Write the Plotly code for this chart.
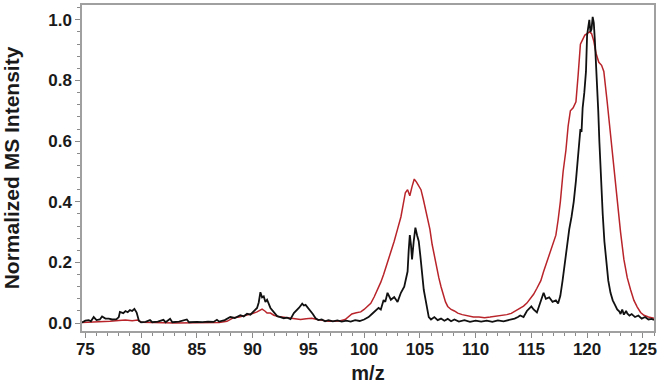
import plotly.graph_objects as go

# Black trace (m/z, normalized intensity)
black_mz = [74.7, 75.0, 75.3, 75.5, 75.75, 76.0, 76.3, 76.5, 76.8, 77.1, 77.4, 77.8, 78.0, 78.1, 78.4, 78.6, 78.8, 79.0, 79.2, 79.4,
            79.6, 79.8, 80.0, 80.4, 80.8, 81.0, 81.5, 82.0, 82.2, 82.6, 82.8, 83.4, 84.1, 84.3, 85.0, 85.5, 86.0, 86.5, 86.8, 87.0,
            87.5, 88.0, 88.4, 88.9, 89.2, 89.5, 89.8, 90.1, 90.4, 90.55, 90.7, 90.85, 91.0, 91.15, 91.3, 91.6, 91.9, 92.2, 92.5, 92.8,
            93.1, 93.4, 93.7, 93.9, 94.15, 94.45, 94.6, 94.75, 95.0, 95.2, 95.4, 95.65, 95.9, 96.2, 96.5, 96.8, 97.2, 97.6, 98.0, 98.4,
            98.8, 99.2, 99.6, 100.0, 100.4, 100.7, 101.0, 101.3, 101.5, 101.75, 101.9, 102.1, 102.4, 102.7, 103.0, 103.3, 103.6, 103.9, 104.0, 104.1,
            104.2, 104.3, 104.45, 104.6, 104.75, 104.9, 105.05, 105.2, 105.35, 105.5, 105.65, 105.8, 106.0, 106.3, 106.6, 106.9, 107.2, 107.5, 107.8, 108.1,
            108.5, 109.0, 109.5, 110.0, 110.5, 111.0, 111.5, 112.0, 112.5, 113.0, 113.5, 113.8, 114.0, 114.3, 114.6, 115.0, 115.2, 115.5, 115.8, 116.1,
            116.3, 116.6, 116.9, 117.2, 117.4, 117.6, 117.8, 118.0, 118.2, 118.4, 118.6, 118.8, 119.0, 119.25, 119.4, 119.5, 119.6, 119.75, 119.9, 120.0,
            120.1, 120.2, 120.3, 120.4, 120.5, 120.6, 120.7, 120.85, 121.0, 121.1, 121.25, 121.4, 121.55, 121.7, 121.9, 122.1, 122.3, 122.5, 122.7, 122.9,
            123.0, 123.15, 123.3, 123.5, 123.6, 123.8, 124.0, 124.3, 124.6, 124.9, 125.2, 125.5, 125.8, 126.0]
black_int = [0.002, 0.008, 0.010, 0.006, 0.020, 0.010, 0.012, 0.022, 0.015, 0.015, 0.012, 0.013, 0.020, 0.037, 0.033, 0.040, 0.036, 0.043, 0.040, 0.047,
             0.035, 0.008, 0.003, 0.004, 0.010, 0.003, 0.005, 0.011, 0.003, 0.014, 0.003, 0.005, 0.012, 0.003, 0.004, 0.003, 0.005, 0.004, 0.011, 0.005,
             0.010, 0.020, 0.017, 0.026, 0.022, 0.031, 0.028, 0.040, 0.050, 0.068, 0.102, 0.085, 0.088, 0.070, 0.077, 0.050, 0.035, 0.023, 0.020, 0.016,
             0.018, 0.013, 0.033, 0.040, 0.050, 0.064, 0.058, 0.060, 0.048, 0.042, 0.030, 0.016, 0.010, 0.012, 0.006, 0.010, 0.006, 0.009, 0.005, 0.008,
             0.005, 0.010, 0.007, 0.012, 0.020, 0.030, 0.040, 0.050, 0.045, 0.076, 0.070, 0.100, 0.077, 0.086, 0.070, 0.100, 0.120, 0.170, 0.240, 0.290,
             0.260, 0.210, 0.270, 0.315, 0.290, 0.270, 0.220, 0.150, 0.110, 0.080, 0.045, 0.020, 0.012, 0.020, 0.010, 0.015, 0.008, 0.014, 0.006, 0.012,
             0.005, 0.010, 0.004, 0.008, 0.005, 0.008, 0.004, 0.009, 0.006, 0.010, 0.015, 0.020, 0.025, 0.020, 0.040, 0.055, 0.045, 0.035, 0.070, 0.100,
             0.080, 0.085, 0.070, 0.075, 0.065, 0.090, 0.140, 0.200, 0.260, 0.310, 0.350, 0.400, 0.470, 0.590, 0.640, 0.630, 0.710, 0.760, 0.830, 0.950,
             0.980, 1.000, 0.960, 0.970, 1.010, 0.990, 0.930, 0.830, 0.700, 0.600, 0.460, 0.360, 0.270, 0.210, 0.140, 0.100, 0.075, 0.060, 0.045, 0.038,
             0.030, 0.045, 0.028, 0.040, 0.032, 0.025, 0.030, 0.020, 0.025, 0.015, 0.020, 0.012, 0.014, 0.010]

# Red trace
red_mz = [74.7, 75.5, 76.5, 77.2, 78.0, 78.6, 79.2, 79.7, 80.0, 81.0, 82.0, 83.0, 84.0, 85.0, 86.0, 87.0, 87.7, 88.3, 88.8, 89.5,
          90.0, 90.4, 90.85, 91.1, 91.3, 91.6, 91.9, 92.3, 92.8, 93.3, 93.8, 94.3, 94.8, 95.3, 95.8, 96.3, 96.8, 97.3, 97.8, 98.3,
          98.6, 98.9, 99.3, 99.7, 100.0, 100.3, 100.6, 100.9, 101.2, 101.5, 101.75, 102.1, 102.4, 102.7, 103.0, 103.3, 103.5, 103.7, 103.9, 104.1,
          104.3, 104.5, 104.7, 104.9, 105.1, 105.3, 105.5, 105.7, 105.9, 106.1, 106.3, 106.5, 106.7, 106.9, 107.1, 107.3, 107.5, 107.8, 108.1, 108.4,
          108.8, 109.3, 109.8, 110.3, 110.8, 111.3, 111.8, 112.3, 112.8, 113.2, 113.6, 114.0, 114.3, 114.6, 114.9, 115.2, 115.5, 115.85, 116.1, 116.45,
          116.8, 117.2, 117.4, 117.6, 117.85, 118.1, 118.3, 118.5, 118.75, 119.0, 119.2, 119.4, 119.6, 119.8, 120.0, 120.2, 120.4, 120.6, 120.8, 121.05,
          121.3, 121.5, 121.8, 122.1, 122.4, 122.7, 123.0, 123.3, 123.6, 123.9, 124.2, 124.5, 124.8, 125.1, 125.5, 126.0]
red_int = [0.002, 0.003, 0.005, 0.006, 0.009, 0.010, 0.008, 0.010, 0.003, 0.001, 0.001, 0.000, 0.001, 0.001, 0.002, 0.002, 0.006, 0.018, 0.020, 0.026,
           0.032, 0.037, 0.046, 0.040, 0.033, 0.033, 0.026, 0.022, 0.020, 0.017, 0.014, 0.012, 0.014, 0.016, 0.012, 0.008, 0.006, 0.006, 0.007, 0.012,
           0.020, 0.030, 0.034, 0.037, 0.045, 0.055, 0.065, 0.086, 0.110, 0.135, 0.160, 0.200, 0.230, 0.270, 0.310, 0.350, 0.390, 0.430, 0.440, 0.420,
           0.450, 0.475, 0.465, 0.450, 0.440, 0.410, 0.380, 0.350, 0.310, 0.260, 0.220, 0.185, 0.150, 0.120, 0.090, 0.070, 0.055, 0.045, 0.040, 0.033,
           0.028, 0.024, 0.020, 0.020, 0.018, 0.020, 0.022, 0.024, 0.028, 0.032, 0.040, 0.048, 0.056, 0.066, 0.080, 0.095, 0.115, 0.140, 0.170, 0.210,
           0.250, 0.290, 0.340, 0.400, 0.500, 0.570, 0.650, 0.700, 0.710, 0.730, 0.820, 0.920, 0.935, 0.950, 0.955, 0.960, 0.955, 0.930, 0.890, 0.860,
           0.850, 0.830, 0.730, 0.620, 0.510, 0.400, 0.300, 0.210, 0.150, 0.110, 0.075, 0.053, 0.035, 0.026, 0.020, 0.016]

x_ticks = [75, 80, 85, 90, 95, 100, 105, 110, 115, 120, 125]
y_ticks = [0.0, 0.2, 0.4, 0.6, 0.8, 1.0]

FONT = "Liberation Sans, Arial, sans-serif"

fig = go.Figure()
fig.add_trace(go.Scatter(x=red_mz, y=red_int, mode="lines",
                         line=dict(color="#b8242a", width=1.5), showlegend=False))
fig.add_trace(go.Scatter(x=black_mz, y=black_int, mode="lines",
                         line=dict(color="#111111", width=1.8), showlegend=False))

axis_common = dict(showline=True, linecolor="#a0a0a0", linewidth=1.5, mirror=True,
                   showgrid=False, zeroline=False, ticks="outside", tickcolor="#8a8a8a",
                   ticklen=5, tickwidth=1.2,
                   tickfont=dict(family=FONT, size=17, color="#1a1a1a", weight="bold"))

fig.update_xaxes(range=[74.7, 126.0], tickvals=x_ticks, ticktext=[str(v) for v in x_ticks],
                 ticklabelstandoff=-3,
                 minor=dict(dtick=1, ticks="outside", ticklen=3, tickcolor="#8a8a8a", tickwidth=1),
                 title=dict(text="m/z", font=dict(family=FONT, size=20, color="#1a1a1a", weight="bold"),
                            standoff=8),
                 **axis_common)
fig.update_yaxes(range=[-0.026, 1.049], tickvals=y_ticks, ticktext=[f"{v:.1f}" for v in y_ticks],
                 minor=dict(dtick=0.04, ticks="outside", ticklen=3, tickcolor="#8a8a8a", tickwidth=1),
                 title=dict(text="Normalized MS Intensity",
                            font=dict(family=FONT, size=21, color="#1a1a1a", weight="bold"),
                            standoff=24),
                 **axis_common)

fig.update_layout(width=660, height=391, margin=dict(l=82, r=5, t=3, b=60),
                  plot_bgcolor="white", paper_bgcolor="white")

fig.write_html("out.html")
